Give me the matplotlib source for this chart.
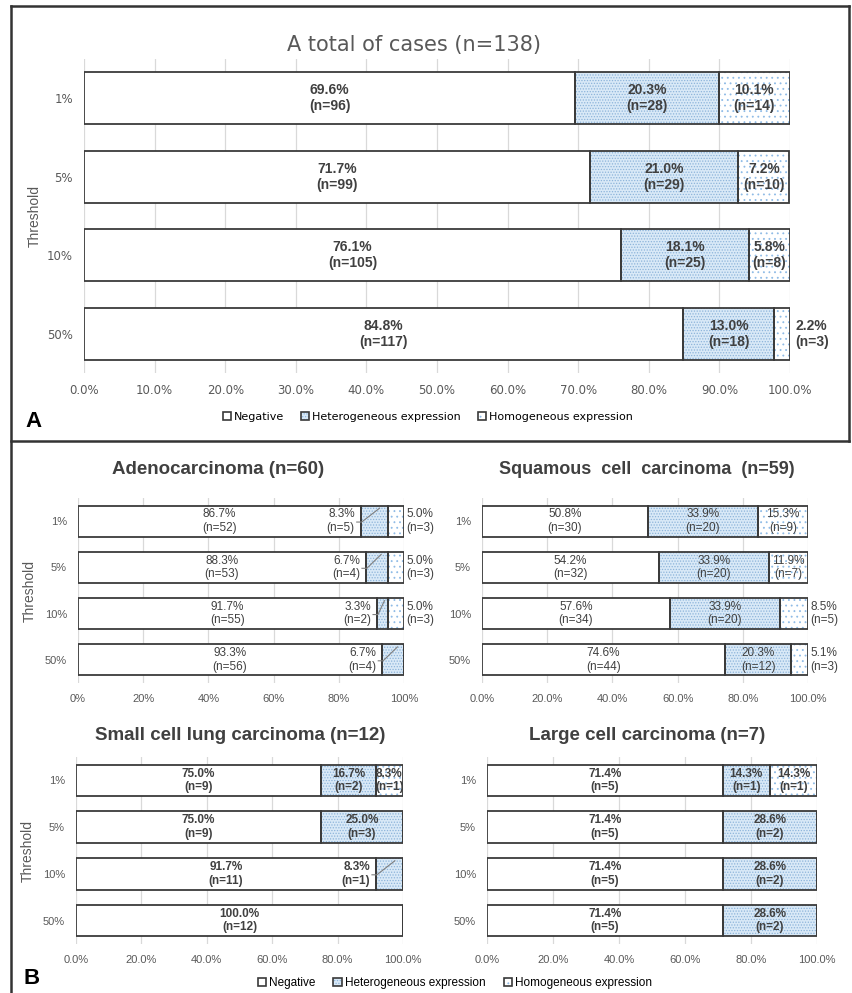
import matplotlib
matplotlib.use('Agg')
import matplotlib.pyplot as plt
from matplotlib.patches import Patch
from matplotlib.lines import Line2D

W, H = 852, 993
thresholds = ['1%', '5%', '10%', '50%']

# A total of cases
tot_neg = [69.6, 71.7, 76.1, 84.8]
tot_neg_n = [96, 99, 105, 117]
tot_het = [20.3, 21.0, 18.1, 13.0]
tot_het_n = [28, 29, 25, 18]
tot_hom = [10.1, 7.2, 5.8, 2.2]
tot_hom_n = [14, 10, 8, 3]

# Adenocarcinoma
ad_neg = [86.7, 88.3, 91.7, 93.3]
ad_neg_n = [52, 53, 55, 56]
ad_het = [8.3, 6.7, 3.3, 6.7]
ad_het_n = [5, 4, 2, 4]
ad_hom = [5.0, 5.0, 5.0, 0]
ad_hom_n = [3, 3, 3, 0]

# Squamous cell carcinoma
sq_neg = [50.8, 54.2, 57.6, 74.6]
sq_neg_n = [30, 32, 34, 44]
sq_het = [33.9, 33.9, 33.9, 20.3]
sq_het_n = [20, 20, 20, 12]
sq_hom = [15.3, 11.9, 8.5, 5.1]
sq_hom_n = [9, 7, 5, 3]

# Small cell lung carcinoma
sc_neg = [75.0, 75.0, 91.7, 100.0]
sc_neg_n = [9, 9, 11, 12]
sc_het = [16.7, 25.0, 8.3, 0]
sc_het_n = [2, 3, 1, 0]
sc_hom = [8.3, 0, 0, 0]
sc_hom_n = [1, 0, 0, 0]

# Large cell carcinoma
lc_neg = [71.4, 71.4, 71.4, 71.4]
lc_neg_n = [5, 5, 5, 5]
lc_het = [14.3, 28.6, 28.6, 28.6]
lc_het_n = [1, 2, 2, 2]
lc_hom = [14.3, 0, 0, 0]
lc_hom_n = [1, 0, 0, 0]

legend_labels = ['Negative', 'Heterogeneous expression', 'Homogeneous expression']

plt.rcParams['hatch.linewidth'] = 0.6

NARROW = ['Liberation Sans Narrow', 'DejaVu Sans Condensed', 'DejaVu Sans']
ARIAL = ['Liberation Sans', 'DejaVu Sans']
EDGE = '#3a3a3a'
TXT = '#404040'
GRAY = '#595959'

# (face, hatch, hatch colour)
styles = [('white', None, None),
          ('#d9e9f7', '......', '#8db4da'),
          ('white', '...', '#8fbbe6')]

fig = plt.figure(figsize=(W / 100, H / 100), dpi=100)


def px_axes(x0, x1, y0, y1):
    return fig.add_axes([x0 / W, 1 - y1 / H, (x1 - x0) / W, (y1 - y0) / H])


def draw_panel(ax, vals, ns, fs, weight, het_out, hom_out, ticklab, tickfont, tickfs,
               height=0.67):
    y = list(range(len(thresholds)))
    left = [0.0] * len(y)
    for k, (v, (fc, hat, hc)) in enumerate(zip(vals, styles)):
        if hat:
            ax.barh(y, v, left=left, height=height, color=fc, hatch=hat,
                    edgecolor=hc, linewidth=0, zorder=2)
            ax.barh(y, v, left=left, height=height, fill=False,
                    edgecolor=EDGE, linewidth=1.3, zorder=3)
        else:
            ax.barh(y, v, left=left, height=height, color=fc,
                    edgecolor=EDGE, linewidth=1.3, zorder=3)
        for i in y:
            if v[i] <= 0:
                continue
            lab = f'{v[i]:.1f}%\n(n={ns[k][i]})'
            if k == 2 and v[i] < hom_out:
                ax.text(100.8, i, lab, ha='left', va='center', fontsize=fs,
                        fontweight=weight, color=TXT, family=ARIAL,
                        linespacing=1.15, clip_on=False, zorder=5)
            elif k == 1 and v[i] < het_out:
                ax.text(left[i] - 1.8, i, lab, ha='right', va='center', fontsize=fs,
                        fontweight=weight, color=TXT, family=ARIAL,
                        linespacing=1.15, zorder=5)
                ax.plot([left[i] - 1.2, left[i] + 0.3, left[i] + v[i] * 0.7],
                        [i + 0.02, i + 0.02, i - 0.28], color='#7f7f7f',
                        lw=0.8, zorder=5)
            else:
                ax.text(left[i] + v[i] / 2, i, lab, ha='center', va='center',
                        fontsize=fs, fontweight=weight, color=TXT, family=ARIAL,
                        linespacing=1.15, zorder=5)
        left = [a + b for a, b in zip(left, v)]
    ax.set_xlim(0, 100)
    ax.set_ylim(len(y) - 0.5, -0.5)
    ax.set_yticks(y)
    ax.set_yticklabels(thresholds, family=tickfont, fontsize=tickfs, color=GRAY)
    ax.set_xticks([0, 20, 40, 60, 80, 100] if len(ticklab) == 6 else list(range(0, 101, 10)))
    ax.set_xticklabels(ticklab, family=tickfont, fontsize=tickfs, color=GRAY)
    ax.tick_params(length=0, pad=8)
    ax.grid(axis='x', color='#d9d9d9', lw=0.9, zorder=0)
    ax.set_axisbelow(True)
    for s in ax.spines.values():
        s.set_visible(False)


def legend_handles():
    hs = []
    for fc, hat, hc in styles:
        if hat:
            hs.append((Patch(facecolor=fc, hatch=hat, edgecolor=hc, linewidth=0),
                       Patch(fill=False, edgecolor=EDGE, linewidth=1.2)))
        else:
            hs.append(Patch(facecolor=fc, edgecolor=EDGE, linewidth=1.2))
    return hs


# ---- Panel A
axA = px_axes(84, 790, 59, 373)
draw_panel(axA, [tot_neg, tot_het, tot_hom], [tot_neg_n, tot_het_n, tot_hom_n],
           10, 'bold', 0, 3, [f'{t:.1f}%' for t in range(0, 101, 10)], NARROW, 8.5,
           height=0.66)
axA.set_ylabel('Threshold', family=ARIAL, fontsize=10, color=GRAY, labelpad=4)
fig.text(414 / W, 1 - 45 / H, 'A total of cases (n=138)', ha='center', va='center',
         fontsize=15, color=GRAY, family=NARROW)
fig.legend(legend_handles(), legend_labels, loc='center', ncol=3,
           bbox_to_anchor=(428 / W, 1 - 417 / H), frameon=False,
           prop={'family': NARROW, 'size': 8}, handlelength=0.7, handleheight=0.7,
           handletextpad=0.3, columnspacing=1.5)
fig.text(33 / W, 1 - 421 / H, 'A', ha='center', va='center', fontsize=16,
         fontweight='bold', family=ARIAL, color='black')

# ---- Panel B
pct0 = [f'{t}%' for t in range(0, 101, 20)]
pct1 = [f'{t:.1f}%' for t in range(0, 101, 20)]

ax1 = px_axes(78, 404, 498, 683)
draw_panel(ax1, [ad_neg, ad_het, ad_hom], [ad_neg_n, ad_het_n, ad_hom_n],
           8.5, 'normal', 9, 9, pct0, ARIAL, 8)
ax1.set_ylabel('Threshold', family=ARIAL, fontsize=10, color=GRAY, labelpad=6)
fig.text(218 / W, 1 - 470 / H, 'Adenocarcinoma (n=60)', ha='center', va='center',
         fontsize=13.5, fontweight='bold', color=TXT, family=ARIAL)

ax2 = px_axes(482, 808, 498, 683)
draw_panel(ax2, [sq_neg, sq_het, sq_hom], [sq_neg_n, sq_het_n, sq_hom_n],
           8.5, 'normal', 9, 9, pct1, ARIAL, 8)
fig.text(647 / W, 1 - 470 / H, 'Squamous  cell  carcinoma  (n=59)', ha='center',
         va='center', fontsize=13, fontweight='bold', color=TXT, family=ARIAL)

ax3 = px_axes(76, 403, 757, 944)
draw_panel(ax3, [sc_neg, sc_het, sc_hom], [sc_neg_n, sc_het_n, sc_hom_n],
           8.5, 'bold', 9, 8, pct1, ARIAL, 8)
ax3.set_ylabel('Threshold', family=ARIAL, fontsize=10, color=GRAY, labelpad=6)
fig.text(240 / W, 1 - 735 / H, 'Small cell lung carcinoma (n=12)', ha='center',
         va='center', fontsize=13.5, fontweight='bold', color=TXT, family=ARIAL)

ax4 = px_axes(487, 817, 757, 944)
draw_panel(ax4, [lc_neg, lc_het, lc_hom], [lc_neg_n, lc_het_n, lc_hom_n],
           8.5, 'bold', 9, 9, pct1, ARIAL, 8)
fig.text(647 / W, 1 - 735 / H, 'Large cell carcinoma (n=7)', ha='center',
         va='center', fontsize=13.5, fontweight='bold', color=TXT, family=ARIAL)

fig.legend(legend_handles(), legend_labels, loc='center', ncol=3,
           bbox_to_anchor=(455 / W, 1 - 983 / H), frameon=False,
           prop={'family': ARIAL, 'size': 8.5}, handlelength=0.7, handleheight=0.7,
           handletextpad=0.3, columnspacing=1.5)
fig.text(32 / W, 1 - 978 / H, 'B', ha='center', va='center', fontsize=16,
         fontweight='bold', family=ARIAL, color='black')

# frame lines
for xs, ys in [([11, 849], [6, 6]), ([11, 849], [441, 441]), ([11, 11], [6, 993]),
               ([849, 849], [6, 441])]:
    fig.add_artist(Line2D([x / W for x in xs], [1 - v / H for v in ys],
                          color='#333333', lw=1.8))

fig.savefig('out.png', dpi=100)
